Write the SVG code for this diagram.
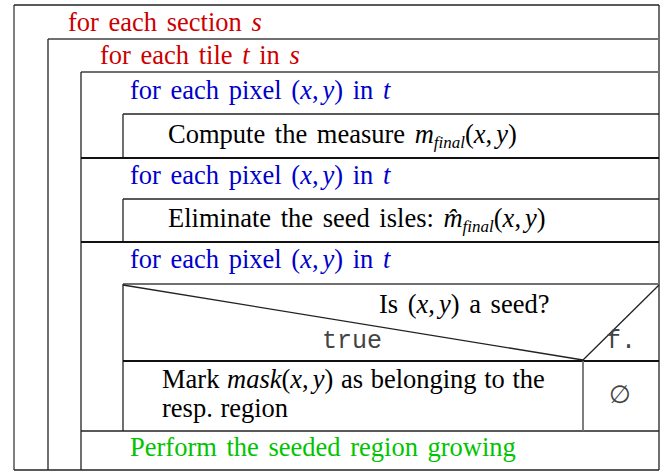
<svg xmlns="http://www.w3.org/2000/svg" width="672" height="471" viewBox="0 0 672 471">
<style>
.t{font-family:"Liberation Serif","Times New Roman",serif;font-size:26.5px;word-spacing:3px;fill:#000}
.i{font-style:italic}
.sub{font-style:italic;font-size:17px}
.red{fill:#cc0000}
.blue{fill:#0000cc}
.green{fill:#00c400}
.mono{font-family:"Liberation Mono","Courier New",monospace;font-size:25px;fill:#444}
.ln{stroke:#222;stroke-width:1.3;fill:none}
.gr{stroke:#707070;stroke-width:1.8;fill:none}
.tk{stroke:#111;stroke-width:2.2;fill:none}
</style>
<rect width="672" height="471" fill="#fff"/>
<g id="frame">
<line class="gr" x1="14" y1="5" x2="14" y2="470"/>
<line class="ln" x1="14" y1="5" x2="659" y2="5"/>
<line class="ln" x1="659" y1="5" x2="659" y2="470"/>
<line class="ln" x1="14" y1="470" x2="659" y2="470"/>
<line class="gr" x1="48" y1="39" x2="659" y2="39"/>
<line class="ln" x1="48" y1="39" x2="48" y2="470"/>
<line class="gr" x1="81" y1="72" x2="659" y2="72"/>
<line class="ln" x1="81" y1="72" x2="81" y2="470"/>
<line class="ln" x1="123" y1="114" x2="659" y2="114"/>
<line class="ln" x1="123" y1="114" x2="123" y2="158"/>
<line class="tk" x1="81" y1="158" x2="659" y2="158"/>
<line class="ln" x1="123" y1="199" x2="659" y2="199"/>
<line class="ln" x1="123" y1="199" x2="123" y2="242"/>
<line class="tk" x1="81" y1="242" x2="659" y2="242"/>
<line class="gr" x1="123" y1="284" x2="659" y2="284"/>
<line class="ln" x1="123" y1="284" x2="123" y2="431"/>
<line class="tk" x1="123" y1="361" x2="659" y2="361"/>
<line class="ln" x1="81" y1="431" x2="659" y2="431"/>
</g>
<g id="connectors">
<line class="ln" x1="123" y1="285" x2="583" y2="360"/>
<line class="ln" x1="583" y1="360" x2="659" y2="285"/>
<line class="gr" x1="583" y1="361" x2="583" y2="431"/>
</g>
<g id="loop-section">
<text class="t red" x="68" y="31">for each section <tspan class="i">s</tspan></text>
</g>
<g id="loop-tile">
<text class="t red" x="100" y="64">for each tile <tspan class="i">t</tspan> in <tspan class="i">s</tspan></text>
</g>
<g id="loop-pixel-1">
<text class="t blue" x="130" y="99">for each pixel (<tspan class="i">x</tspan>,<tspan dx="4" class="i">y</tspan>) in <tspan class="i">t</tspan></text>
</g>
<g id="compute">
<text class="t" x="168" y="143">Compute the measure <tspan class="i">m</tspan><tspan class="sub" dy="5">final</tspan><tspan dy="-5">(</tspan><tspan class="i">x</tspan>,<tspan dx="4" class="i">y</tspan>)</text>
</g>
<g id="loop-pixel-2">
<text class="t blue" x="130" y="184">for each pixel (<tspan class="i">x</tspan>,<tspan dx="4" class="i">y</tspan>) in <tspan class="i">t</tspan></text>
</g>
<g id="eliminate">
<text class="t" x="168" y="227">Eliminate the seed isles: <tspan class="i">m̂</tspan><tspan class="sub" dy="5">final</tspan><tspan dy="-5">(</tspan><tspan class="i">x</tspan>,<tspan dx="4" class="i">y</tspan>)</text>
</g>
<g id="loop-pixel-3">
<text class="t blue" x="130" y="268">for each pixel (<tspan class="i">x</tspan>,<tspan dx="4" class="i">y</tspan>) in <tspan class="i">t</tspan></text>
</g>
<g id="decision">
<text class="t" x="379" y="313">Is (<tspan class="i">x</tspan>,<tspan dx="4" class="i">y</tspan>) a seed?</text>
<text class="mono" x="322" y="348">true</text>
<text class="mono" x="606" y="348">f.</text>
</g>
<g id="mark-true">
<text class="t" x="162" y="388" style="word-spacing:1px">Mark <tspan class="i">mask</tspan>(<tspan class="i">x</tspan>,<tspan dx="4" class="i">y</tspan>) as belonging to the</text>
<text class="t" x="162" y="417" style="word-spacing:1px">resp. region</text>
</g>
<g id="mark-false">
<text x="620" y="403" text-anchor="middle" style="font-family:'DejaVu Sans',sans-serif;font-size:25px;fill:#444">∅</text>
</g>
<g id="perform">
<text class="t green" x="130" y="456">Perform the seeded region growing</text>
</g>
</svg>
